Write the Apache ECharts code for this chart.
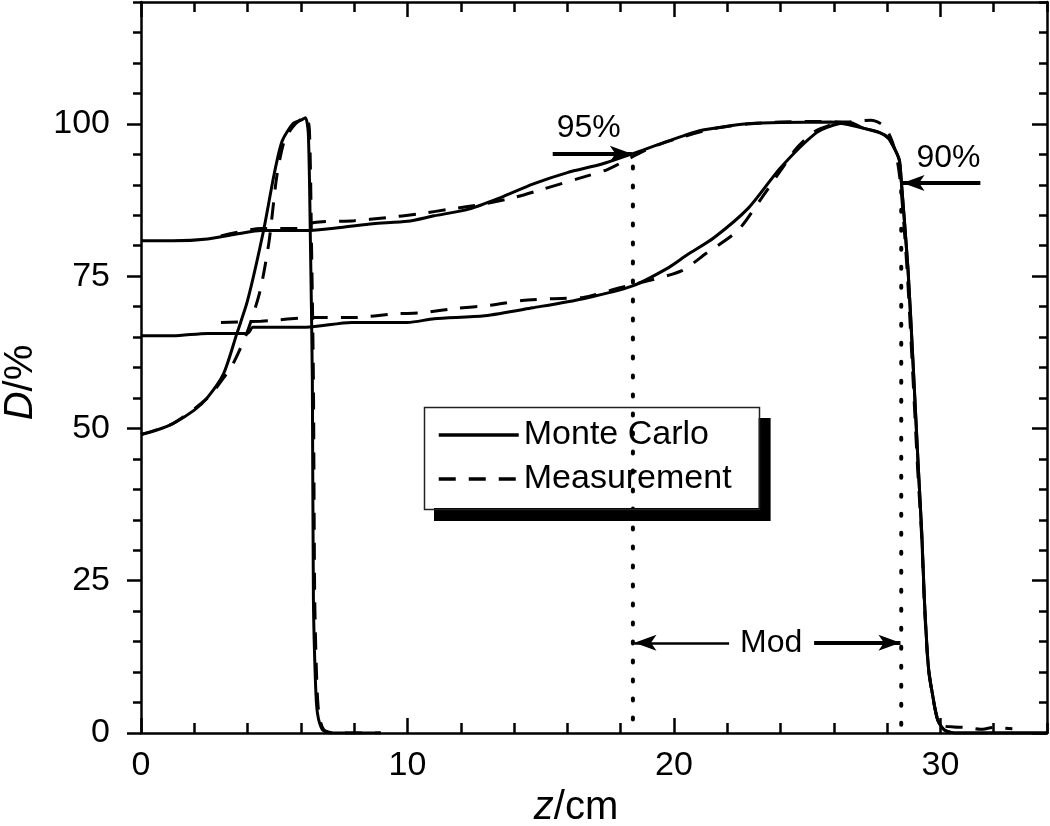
<!DOCTYPE html>
<html>
<head>
<meta charset="utf-8">
<title>Depth dose</title>
<script src="https://cdn.jsdelivr.net/npm/echarts@6/dist/echarts.min.js"></script>
<style>
    html, body { margin: 0; padding: 0; background: #fff; }
    #main { width: 1050px; height: 826px; }
</style>
</head>
<body>
<div id="main"></div>
<script>
// [z (cm), D (%)]
const mcBragg = [[0, 49], [0.5, 49.6], [1.2, 50.8], [2, 53], [2.5, 55.1], [3.1, 59], [3.6, 65.6], [4, 71],
    [4.6, 82.5], [5, 91.8], [5.3, 97.2], [5.7, 100], [6, 100.6], [6.17, 101], [6.28, 98.4], [6.36, 80],
    [6.43, 58], [6.47, 22], [6.55, 8], [6.62, 3.3], [6.8, 0.6], [7.1, 0], [9, 0]];
const measBragg = [[0, 49], [1.2, 50.8], [2.5, 55], [3.1, 58.3], [3.5, 61], [4, 66], [4.47, 72.6], [4.8, 80.5],
    [5.1, 91.5], [5.4, 97.5], [5.8, 100], [6.2, 101.2], [6.32, 99], [6.4, 80], [6.47, 58], [6.52, 22],
    [6.6, 8], [6.68, 3], [6.85, 0.6], [7.2, 0], [9, 0]];

// distal fall-off, shared by both Monte Carlo SOBP curves
const mcDistal = [[27.7, 98.6], [28.04, 97.7], [28.27, 96], [28.46, 94], [28.53, 90.7], [28.78, 76.4],
    [28.97, 61], [29.17, 43.6], [29.3, 32.8], [29.4, 21.8], [29.55, 10.8], [29.74, 5.4], [29.9, 2.1],
    [30.15, 0.5], [30.6, 0], [34, 0]];
const mcUpper = [[0, 80.8], [1.2, 80.8], [2.5, 81.1], [3.7, 82], [4.5, 82.5], [6.2, 82.5], [7.5, 83], [8.7, 83.6],
    [10, 84], [11, 84.9], [12.3, 86], [13.5, 87.9], [14.7, 90.1], [16, 92], [17.3, 93.4], [18.45, 95.1],
    [19.8, 97.2], [21, 98.9], [22, 99.6], [22.8, 100], [24, 100.2], [25.9, 100.3], [27.1, 99.3]];
const mcLower = [[0, 65.2], [1.2, 65.2], [2.5, 65.6], [4, 65.6], [4.2, 66.6], [6.2, 66.6], [7.9, 67.4], [10, 67.4],
    [11, 68], [12.9, 68.5], [14.7, 69.8], [16.6, 71.3], [18.45, 73.4], [19.8, 76.4], [20.5, 78.5], [21.5, 81.3],
    [22.8, 86.2], [24, 92.8], [25.3, 98.4], [26, 99.8], [26.6, 100.2], [27.1, 99.3]];

const measUpper = [[3, 81.6], [4.5, 82.8], [5.9, 82.8], [6.5, 83.8], [8, 84.1], [9.2, 84.6], [10.4, 85.2],
    [11.6, 86], [12.8, 86.8], [14, 87.9], [15.1, 89.3], [16.4, 91], [17.5, 92.5], [18.45, 94.6], [19.2, 96.2],
    [20.2, 97.7], [21.5, 99.2], [22.8, 100], [24, 100.3], [25.5, 100.4], [26.5, 100.3], [27.4, 100.6],
    [27.9, 99.6], [28.2, 97], [28.4, 93.5], [28.53, 89], [28.75, 76], [28.95, 60], [29.15, 43], [29.3, 32],
    [29.4, 21], [29.55, 10.5], [29.74, 5.2], [29.9, 2.3], [30.1, 1.2], [30.5, 1], [31, 0.9], [31.5, 0.6],
    [32, 0.9], [32.7, 0.7]];
const measLower = [[3, 67.4], [4.5, 67.6], [6.5, 68.2], [8, 68.2], [9.5, 68.8], [10.6, 69], [11.8, 69.7],
    [13.1, 70.2], [14.3, 71], [15.4, 71.3], [16.6, 71.5], [17.9, 73], [19.1, 74.3], [20.3, 75.9], [21.2, 78.7],
    [22.4, 82.5], [23.3, 87.9], [24, 92.3], [24.6, 96], [25.3, 98.8], [26, 100]];

// dotted guides at the 95 % proximal point and the 90 % distal point
const guideZ = [18.46, 28.53];
const guideTop = [93, 89];

const noteText = ['95%', '90%', 'Mod'];
const noteAt = [[16.8, 99.3], [30.3, 94.3], [23.65, 14.8]];

// arrow tail -> tip
const arrows = [
    { from: [15.45, 95.1], to: [18.42, 95.1], width: 4 },
    { from: [31.5, 90.3], to: [28.58, 90.3], width: 4 },
    { from: [22.07, 14.8], to: [18.52, 14.8], width: 2.5 },
    { from: [25.26, 14.8], to: [28.5, 14.8], width: 4 }
];

const xMajor = [0, 10, 20, 30];
const yMajor = [0, 25, 50, 75, 100];

const FONT = '"Liberation Sans", Arial, Helvetica, sans-serif';
const INK = '#000';

// legend frame (drawn separately so the border casts no shadow)
const LEGEND_BOX = { x: 422, y: 405, width: 335, height: 102 };

const chart = echarts.init(document.getElementById('main'), null, { renderer: 'canvas' });

function axis(dim, position, opts) {
    const base = {
        type: 'value',
        position: position,
        min: 0,
        max: dim === 'x' ? 34 : 120,
        axisLine: { show: false, onZero: false, lineStyle: { color: INK, width: 2.5 } },
        axisTick: { show: true, lineStyle: { color: INK, width: 2.5 } },
        axisLabel: { show: false },
        splitLine: { show: false },
        minorTick: { show: false }
    };
    return echarts.util.merge(base, opts, true);
}

const nameRich = {
    i: { fontStyle: 'italic', fontSize: 40, fontFamily: FONT, color: INK },
    n: { fontSize: 40, fontFamily: FONT, color: INK }
};

const xAxes = [
    axis('x', 'bottom', {
        interval: 2,
        axisLine: { show: true },
        axisTick: { inside: true, length: 10 },
        axisLabel: {
            show: true, margin: 16, fontSize: 34, color: INK, fontFamily: FONT,
            formatter: v => (xMajor.indexOf(v) >= 0 ? String(v) : '')
        },
        name: '{i|z}{n|/cm}',
        nameLocation: 'middle',
        nameGap: 52,
        nameTextStyle: { rich: nameRich, padding: [0, 36, 0, 0] }
    }),
    axis('x', 'bottom', { axisTick: { inside: true, length: 15, customValues: xMajor } }),
    axis('x', 'top', { interval: 2, axisLine: { show: true }, axisTick: { inside: true, length: 10 } }),
    axis('x', 'top', { axisTick: { inside: true, length: 15, customValues: xMajor } })
];

const yAxes = [
    axis('y', 'left', {
        interval: 5,
        axisLine: { show: true },
        axisTick: { inside: false, length: 8 },
        axisLabel: {
            show: true, margin: 31, fontSize: 34, color: INK, fontFamily: FONT,
            formatter: v => (yMajor.indexOf(v) >= 0 ? String(v) : '')
        },
        name: '{i|D}{n|/%}',
        nameLocation: 'middle',
        nameGap: 100,
        nameTextStyle: { rich: nameRich, padding: [0, 30, 0, 0] }
    }),
    axis('y', 'left', { axisTick: { inside: false, length: 14, customValues: yMajor } }),
    axis('y', 'right', { interval: 5, axisLine: { show: true }, axisTick: { inside: true, length: 8 } }),
    axis('y', 'right', { axisTick: { inside: true, length: 15, customValues: yMajor } })
];

function curve(name, data, dashed) {
    return {
        name: name,
        type: 'line',
        data: data,
        symbol: 'none',
        smooth: 0.25,
        silent: true,
        itemStyle: { color: INK },
        lineStyle: { color: INK, width: 3, type: dashed ? [17, 13] : 'solid' },
        z: dashed ? 3 : 2
    };
}

const series = [
    curve('Monte Carlo', mcBragg, false),
    curve('Monte Carlo', mcUpper.concat(mcDistal), false),
    curve('Monte Carlo', mcLower.concat(mcDistal), false),
    curve('Measurement', measBragg, true),
    curve('Measurement', measUpper, true),
    curve('Measurement', measLower, true)
];

guideZ.forEach(function (z, i) {
    series.push({
        name: 'guide' + i,
        type: 'line',
        data: [[z, guideTop[i]], [z, 0.5]],
        symbol: 'none',
        silent: true,
        lineStyle: { color: INK, width: 4, type: [2, 17], cap: 'round' },
        z: 4,
        markLine: i === 0 ? {
            silent: true,
            animation: false,
            symbol: ['none', 'arrow'],
            symbolSize: [12, 22],
            label: { show: false },
            emphasis: { disabled: true },
            data: arrows.map(a => [
                { coord: a.from, lineStyle: { color: INK, width: a.width, type: 'solid' } },
                { coord: a.to }
            ])
        } : undefined
    });
});

series.push({
    name: 'notes',
    type: 'scatter',
    symbolSize: 0,
    silent: true,
    itemStyle: { opacity: 1, color: INK },
    data: noteAt.map((p, i) => ({ value: p, name: noteText[i] })),
    label: {
        show: true, position: [0, 0], align: 'center', verticalAlign: 'middle',
        formatter: '{b}', opacity: 1,
        fontSize: 32, color: INK, fontFamily: FONT
    }
});

const option = {
    animation: false,
    backgroundColor: '#fff',
    textStyle: { fontFamily: FONT, color: INK },
    grid: { left: 141, right: 3, top: 2, bottom: 93, containLabel: false, outerBoundsMode: 'none' },
    legend: {
        data: ['Monte Carlo', 'Measurement'],
        orient: 'vertical',
        left: LEGEND_BOX.x,
        top: LEGEND_BOX.y,
        itemWidth: 80,
        itemHeight: 14,
        itemGap: 8,
        padding: [12, 27, 11, 15],
        backgroundColor: '#fff',
        borderWidth: 0,
        borderRadius: 0,
        shadowColor: '#000',
        shadowBlur: 0,
        shadowOffsetX: 12,
        shadowOffsetY: 13,
        selectedMode: false,
        itemStyle: { opacity: 0 },
        lineStyle: { color: INK, width: 3.5 },
        textStyle: { fontSize: 34, color: INK, lineHeight: 36, fontFamily: FONT }
    },
    graphic: [{
        type: 'rect',
        left: LEGEND_BOX.x,
        top: LEGEND_BOX.y,
        silent: true,
        z: 100,
        shape: { width: LEGEND_BOX.width, height: LEGEND_BOX.height },
        style: { fill: null, stroke: '#222', lineWidth: 1.5 }
    }],
    xAxis: xAxes,
    yAxis: yAxes,
    series: series
};

chart.setOption(option);
</script>
</body>
</html>
